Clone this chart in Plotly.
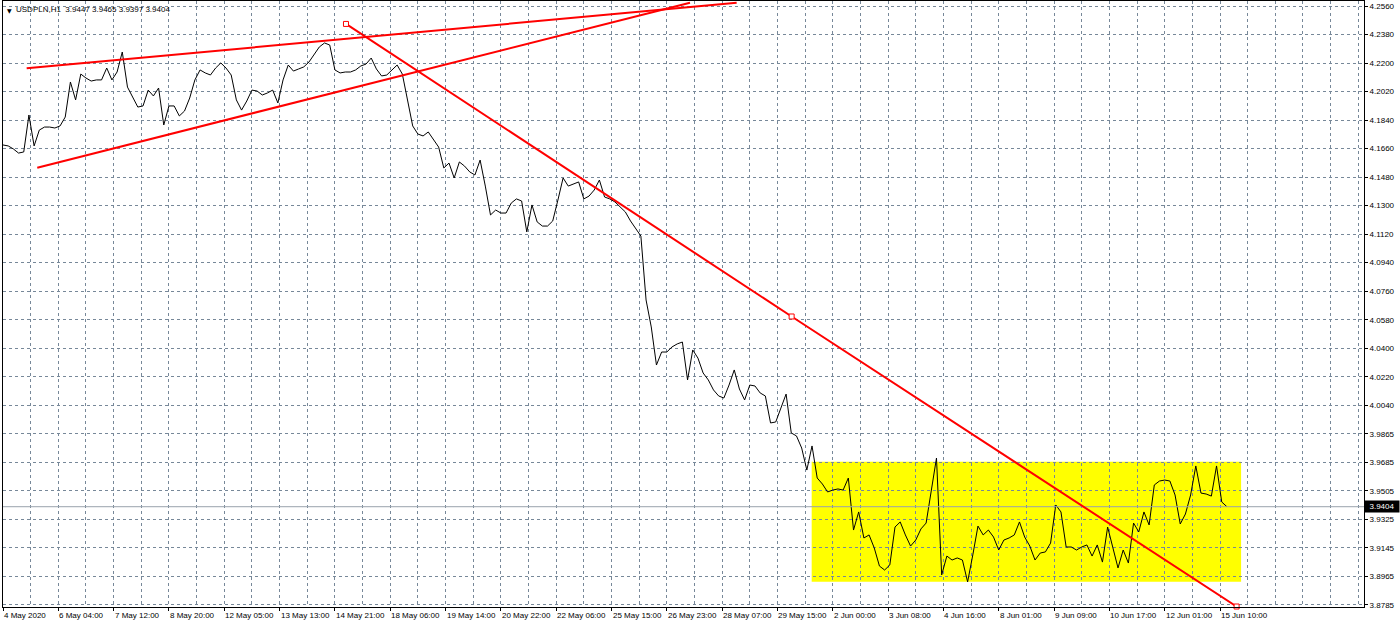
import numpy as np
import plotly.graph_objects as go

# ---------------- data ----------------
symbol = "USDPLN,H1"
last_ohlc = ["3.9447", "3.9465", "3.9397", "3.9404"]
bid_price = 3.9404

bar_step = 3  # hourly bars between listed closes
close = [
    4.1684, 4.1678, 4.1659, 4.1633, 4.1640, 4.1873, 4.1678, 4.1778, 4.1797, 4.1797,
    4.1791, 4.1804, 4.1860, 4.2081, 4.1968, 4.2131, 4.2106, 4.2087, 4.2094, 4.2094,
    4.2169, 4.2094, 4.2144, 4.2270, 4.2049, 4.1986, 4.1923, 4.1930, 4.2030, 4.1993,
    4.2043, 4.1810, 4.1930, 4.1930, 4.1867, 4.1898, 4.1980, 4.2094, 4.2157, 4.2138,
    4.2125, 4.2169, 4.2201, 4.2169, 4.2125, 4.1968, 4.1904, 4.1961, 4.2030, 4.2024,
    4.1999, 4.2012, 4.2030, 4.1949, 4.2094, 4.2188, 4.2150, 4.2163, 4.2176, 4.2207,
    4.2257, 4.2302, 4.2327, 4.2314, 4.2157, 4.2138, 4.2144, 4.2144, 4.2157, 4.2182,
    4.2194, 4.2232, 4.2163, 4.2119, 4.2125, 4.2157, 4.2188, 4.2131, 4.1968, 4.1804,
    4.1753, 4.1741, 4.1766, 4.1715, 4.1671, 4.1539, 4.1570, 4.1476, 4.1577, 4.1551,
    4.1514, 4.1495, 4.1589, 4.1425, 4.1243, 4.1274, 4.1255, 4.1255, 4.1318, 4.1344,
    4.1331, 4.1136, 4.1306, 4.1199, 4.1173, 4.1173, 4.1205, 4.1337, 4.1476, 4.1425,
    4.1438, 4.1451, 4.1344, 4.1362, 4.1400, 4.1463, 4.1356, 4.1344, 4.1325, 4.1293,
    4.1262, 4.1205, 4.1154, 4.1110, 4.0707, 4.0537, 4.0297, 4.0379, 4.0379, 4.0411,
    4.0430, 4.0442, 4.0203, 4.0392, 4.0341, 4.0247, 4.0203, 4.0140, 4.0102, 4.0089,
    4.0171, 4.0266, 4.0146, 4.0077, 4.0171, 4.0165, 4.0121, 4.0102, 3.9932, 3.9938,
    4.0026, 4.0114, 3.9869, 3.9850, 3.9774, 3.9635, 3.9787, 3.9585, 3.9547, 3.9497,
    3.9509, 3.9516, 3.9509, 3.9585, 3.9257, 3.9371, 3.9207, 3.9226, 3.9144, 3.9030,
    3.9005, 3.9037, 3.9276, 3.9308, 3.9226, 3.9156, 3.9194, 3.9264, 3.9301, 3.9509,
    3.9711, 3.8974, 3.9093, 3.9068, 3.9081, 3.9068, 3.8930, 3.9100, 3.9282, 3.9226,
    3.9257, 3.9213, 3.9131, 3.9194, 3.9207, 3.9226, 3.9308, 3.9213, 3.9156, 3.9068,
    3.9112, 3.9119, 3.9175, 3.9415, 3.9371, 3.9150, 3.9150, 3.9131, 3.9150, 3.9163,
    3.9093, 3.9163, 3.9055, 3.9276, 3.9144, 3.9018, 3.9131, 3.9049, 3.9301, 3.9245,
    3.9371, 3.9289, 3.9541, 3.9566, 3.9572, 3.9566, 3.9478, 3.9295, 3.9358, 3.9478,
    3.9661, 3.9490, 3.9484, 3.9471, 3.9661, 3.9434, 3.9404,
]

bars_per_label = 32
x_labels = [
    "4 May 2020", "6 May 04:00", "7 May 12:00", "8 May 20:00", "12 May 05:00",
    "13 May 13:00", "14 May 21:00", "18 May 06:00", "19 May 14:00", "20 May 22:00",
    "22 May 06:00", "25 May 15:00", "26 May 23:00", "28 May 07:00", "29 May 15:00",
    "2 Jun 00:00", "3 Jun 08:00", "4 Jun 16:00", "8 Jun 01:00", "9 Jun 09:00",
    "10 Jun 17:00", "12 Jun 01:00", "15 Jun 10:00",
]

y_labels = [
    "3.8785", "3.8965", "3.9145", "3.9325", "3.9505", "3.9685", "3.9865", "4.0040",
    "4.0220", "4.0400", "4.0580", "4.0760", "4.0940", "4.1120", "4.1300", "4.1480",
    "4.1660", "4.1840", "4.2020", "4.2200", "4.2380", "4.2560",
]
y_grid_low, y_grid_high = 3.8785, 4.2560

# chart objects (anchor bar, anchor price)
wedge_upper_bars = [13.7, 424.4]
wedge_upper_prices = [4.2167, 4.2581]
wedge_lower_bars = [19.8, 397.4]
wedge_lower_prices = [4.1541, 4.2581]
down_trend_bars = [198.4, 456.2, 713.6]
down_trend_prices = [4.2447, 4.0603, 3.8775]
range_box_bars = [467.8, 716.2]
range_box_prices = [3.8931, 3.9687]

x_view = [0, 787.3]
y_view = [3.87719, 4.25915]

# ---------------- figure ----------------
FONT = "Liberation Sans, Arial, sans-serif"
GRID = "#778899"

bars = np.arange(len(close)) * bar_step
y_ticks = np.linspace(y_grid_low, y_grid_high, len(y_labels))
x_ticks = [i * bars_per_label for i in range(len(x_labels))]

fig = go.Figure()

fig.add_trace(go.Scatter(
    x=bars, y=close, mode="lines",
    line=dict(color="#000000", width=1), hoverinfo="skip",
))

# bid line
fig.add_trace(go.Scatter(
    x=x_view, y=[bid_price, bid_price], mode="lines",
    line=dict(color="#9aa3ad", width=1), hoverinfo="skip",
))

for bx, py in [(wedge_upper_bars, wedge_upper_prices), (wedge_lower_bars, wedge_lower_prices)]:
    fig.add_trace(go.Scatter(
        x=bx, y=py, mode="lines",
        line=dict(color="#ff0000", width=2), hoverinfo="skip",
    ))

fig.add_trace(go.Scatter(
    x=down_trend_bars, y=down_trend_prices, mode="lines+markers",
    line=dict(color="#ff0000", width=2),
    marker=dict(symbol="square", size=5, color="#ffffff", line=dict(color="#ff0000", width=1)),
    hoverinfo="skip", cliponaxis=False,
))

fig.add_shape(
    type="rect", xref="x", yref="y",
    x0=range_box_bars[0], x1=range_box_bars[1],
    y0=range_box_prices[0], y1=range_box_prices[1],
    fillcolor="#ffff00", line=dict(width=0), layer="below",
)

annotations = []
for tv, lab in zip(x_ticks, x_labels):
    annotations.append(dict(
        x=tv, y=0, xref="x", yref="paper", text=lab, showarrow=False,
        xanchor="left", yanchor="top", yshift=-2, xshift=-1,
        font=dict(family=FONT, size=8, color="#000000"),
    ))

annotations.append(dict(
    x=0, y=1, xref="paper", yref="paper", text="\u25BC", showarrow=False,
    xanchor="left", yanchor="top", xshift=2, yshift=-4,
    font=dict(family="DejaVu Sans", size=6, color="#000000"),
))
annotations.append(dict(
    x=0, y=1, xref="paper", yref="paper",
    text=symbol + "\u00a0\u00a0" + " ".join(last_ohlc), showarrow=False,
    xanchor="left", yanchor="top", xshift=11, yshift=-2,
    font=dict(family=FONT, size=8, color="#000000"),
))
annotations.append(dict(
    x=1, y=bid_price, xref="paper", yref="y", text="3.9404", showarrow=False,
    xanchor="left", yanchor="middle", xshift=0,
    bgcolor="#000000", borderpad=1, width=32, align="center",
    font=dict(family=FONT, size=8, color="#ffffff"),
))

fig.update_layout(
    width=1400, height=627,
    margin=dict(l=3, r=36, t=1, b=20),
    paper_bgcolor="#ffffff", plot_bgcolor="#ffffff",
    showlegend=False,
    annotations=annotations,
    hovermode=False,
)

fig.update_xaxes(
    range=x_view, tickvals=x_ticks, showticklabels=False,
    ticks="outside", ticklen=3, tickcolor="#000000",
    showgrid=True, gridcolor=GRID, griddash="3px,3px", gridwidth=1,
    minor=dict(dtick=16, tick0=0, showgrid=True, gridcolor=GRID, griddash="3px,3px", ticks=""),
    showline=True, linecolor="#000000", linewidth=1, mirror=True,
    zeroline=False, fixedrange=True,
)
fig.update_yaxes(
    side="right", range=y_view, tickvals=y_ticks, ticktext=y_labels,
    ticks="outside", ticklen=3, tickcolor="#000000",
    tickfont=dict(family=FONT, size=8, color="#000000"),
    showgrid=True, gridcolor=GRID, griddash="3px,3px", gridwidth=1,
    showline=True, linecolor="#000000", linewidth=1, mirror=True,
    zeroline=False, fixedrange=True,
)

fig.write_html(
    "out.html",
    config={"displayModeBar": False},
    post_script="document.body.style.margin='0px';document.body.style.overflow='hidden';",
)
